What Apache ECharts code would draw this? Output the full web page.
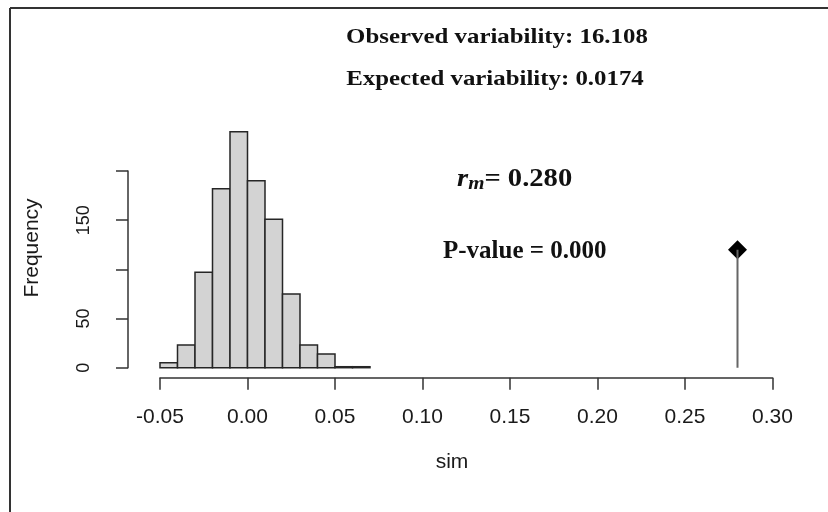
<!DOCTYPE html>
<html>
<head>
<meta charset="utf-8">
<script src="https://cdn.jsdelivr.net/npm/echarts@6/dist/echarts.min.js"></script>
<style>
  html, body { margin: 0; padding: 0; background: #fff; }
  #chart { width: 828px; height: 512px; }
</style>
</head>
<body>
<div id="chart"></div>
<script>
// 直方图数据: 每个箱的起点与频数 (箱宽 0.01)
var binStarts = [-0.05, -0.04, -0.03, -0.02, -0.01, 0.00, 0.01, 0.02, 0.03, 0.04, 0.05, 0.06];
var binCounts = [5, 23, 97, 182, 240, 190, 151, 75, 23, 14, 1, 1];
var binWidth = 0.01;
// 观测值
var observed = [0.28, 120];
// 坐标轴刻度
var xTicks = [-0.05, 0.00, 0.05, 0.10, 0.15, 0.20, 0.25, 0.30];
var yTicks = [0, 50, 100, 150, 200];
var yShown = [0, 50, 150]; // R 只画了不重叠的标签
// 文字
var titleLines = ['Observed variability: 16.108', 'Expected variability: 0.0174'];
var rmText = '0.280';
var pText = 'P-value = 0.000';

var serif = '"Liberation Serif", "DejaVu Serif", serif';
var sans = '"Liberation Sans", Arial, sans-serif';

var chart = echarts.init(document.getElementById('chart'));

var histData = [];
for (var i = 0; i < binStarts.length; i++) {
  histData.push([binStarts[i], binStarts[i] + binWidth, binCounts[i]]);
}

// 画直方图的矩形
var renderBin = function(params, api) {
  var p0 = api.coord([api.value(0), 0]);
  var p1 = api.coord([api.value(1), api.value(2)]);
  return {
    type: 'rect',
    shape: { x: p0[0], y: p1[1], width: p1[0] - p0[0], height: p0[1] - p1[1] },
    style: { fill: '#d3d3d3', stroke: '#262626', lineWidth: 1.5 }
  };
};

var option = {
  animation: false,
  backgroundColor: '#fff',
  grid: { left: 160, right: 55.5, top: 171, bottom: 144.3, containLabel: false },
  xAxis: {
    type: 'value',
    min: xTicks[0],
    max: xTicks[xTicks.length - 1],
    interval: 0.05,
    offset: 10,
    axisLine: { show: true, onZero: false, lineStyle: { color: '#333', width: 1.5 } },
    axisTick: { show: true, length: 12, lineStyle: { color: '#333', width: 1.5 } },
    axisLabel: {
      margin: 29,
      color: '#1a1a1a',
      fontFamily: sans,
      fontSize: 21,
      formatter: function(v) { return v.toFixed(2); }
    },
    splitLine: { show: false }
  },
  yAxis: {
    type: 'value',
    min: yTicks[0],
    max: yTicks[yTicks.length - 1],
    interval: 50,
    offset: 32,
    axisLine: { show: true, onZero: false, lineStyle: { color: '#333', width: 1.5 } },
    axisTick: { show: true, length: 12, lineStyle: { color: '#333', width: 1.5 } },
    axisLabel: {
      rotate: 90,
      margin: 35,
      color: '#1a1a1a',
      fontFamily: sans,
      fontSize: 18,
      formatter: function(v) { return yShown.indexOf(v) >= 0 ? String(v) : ''; }
    },
    splitLine: { show: false }
  },
  series: [{
    name: 'hist',
    type: 'custom',
    renderItem: renderBin,
    clip: false,
    encode: { x: [0, 1], y: 2 },
    data: histData
  }, {
    name: 'stem',
    type: 'line',
    symbol: 'none',
    lineStyle: { color: '#666', width: 2 },
    data: [[observed[0], 0], observed]
  }, {
    name: 'observed',
    type: 'scatter',
    symbol: 'diamond',
    symbolSize: 19,
    itemStyle: { color: '#000', opacity: 1 },
    data: [observed]
  }],
  graphic: [
    // 外框 (上, 左)
    { type: 'line', shape: { x1: 10, y1: 8, x2: 828, y2: 8 }, style: { stroke: '#333', lineWidth: 2 } },
    { type: 'line', shape: { x1: 10, y1: 8, x2: 10, y2: 512 }, style: { stroke: '#333', lineWidth: 2 } },
    {
      type: 'text', x: 497, y: 37, scaleX: 1.13,
      style: { text: titleLines[0], font: 'bold 22px ' + serif, fill: '#111', align: 'center', verticalAlign: 'middle' }
    },
    {
      type: 'text', x: 495, y: 79, scaleX: 1.13,
      style: { text: titleLines[1], font: 'bold 22px ' + serif, fill: '#111', align: 'center', verticalAlign: 'middle' }
    },
    {
      type: 'text', x: 457, y: 179, scaleX: 1.1,
      style: {
        text: '{r|r}{m|m}{v|= ' + rmText + '}',
        align: 'left',
        verticalAlign: 'middle',
        rich: {
          r: { fontFamily: serif, fontWeight: 'bold', fontStyle: 'italic', fontSize: 26, lineHeight: 30, verticalAlign: 'middle', fill: '#111' },
          m: { fontFamily: serif, fontWeight: 'bold', fontStyle: 'italic', fontSize: 19, lineHeight: 16, verticalAlign: 'bottom', fill: '#111' },
          v: { fontFamily: serif, fontWeight: 'bold', fontSize: 26, lineHeight: 30, verticalAlign: 'middle', fill: '#111' }
        }
      }
    },
    {
      type: 'text', x: 443, y: 252,
      style: { text: pText, font: 'bold 25px ' + serif, fill: '#111', align: 'left', verticalAlign: 'middle' }
    },
    {
      type: 'text', x: 32, y: 248, rotation: Math.PI / 2,
      style: { text: 'Frequency', font: '21px ' + sans, fill: '#1a1a1a', align: 'center', verticalAlign: 'middle' }
    },
    {
      type: 'text', x: 452, y: 462,
      style: { text: 'sim', font: '21px ' + sans, fill: '#1a1a1a', align: 'center', verticalAlign: 'middle' }
    }
  ]
};

chart.setOption(option);
</script>
</body>
</html>
